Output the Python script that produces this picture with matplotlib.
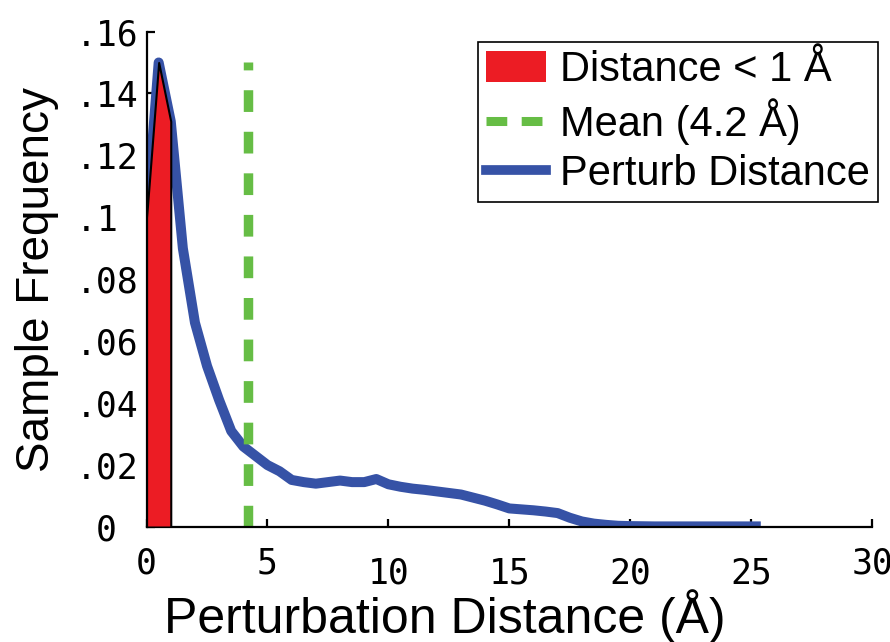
import numpy as np
import matplotlib
matplotlib.use('Agg')
import matplotlib.pyplot as plt
import matplotlib.patches as mpatches
import matplotlib.lines as mlines
from matplotlib.transforms import ScaledTranslation

# perturbation distance (A) and sample frequency
distance = [0.0, 0.5, 1.0, 1.5, 2.0, 2.5, 3.0, 3.5, 4.0, 4.5, 5.0, 5.5, 6.0, 6.5,
            7.0, 7.5, 8.0, 8.5, 9.0, 9.5, 10.0, 10.5, 11.0, 11.5, 12.0, 12.5,
            13.0, 13.5, 14.0, 14.5, 15.0, 15.5, 16.0, 16.5, 17.0, 17.5, 18.0,
            18.5, 19.0, 19.5, 20.0, 21.0, 22.0, 23.0, 24.0, 25.4]
frequency = [0.100, 0.150, 0.131, 0.090, 0.066, 0.052, 0.041, 0.031, 0.026,
             0.023, 0.020, 0.018, 0.0152, 0.0145, 0.014, 0.0145, 0.015, 0.0145,
             0.0145, 0.0155, 0.0138, 0.013, 0.0124, 0.012, 0.0115, 0.011,
             0.0105, 0.0095, 0.0085, 0.0073, 0.0060, 0.0057, 0.0054, 0.0050,
             0.0045, 0.0030, 0.0018, 0.0011, 0.0007, 0.0004, 0.0003, 0.0002,
             0.0002, 0.0002, 0.0002, 0.0002]
close_cut = 1.0      # "Distance < 1 A" region
mean_dist = 4.2
mean_top = 0.15

yticks = [0, 0.02, 0.04, 0.06, 0.08, 0.10, 0.12, 0.14, 0.16]
ytick_labels = ['0 ', '.02', '.04', '.06', '.08', '.1 ', '.12', '.14', '.16']
xticks = [0, 5, 10, 15, 20, 25, 30]
xtick_labels = ['0', '5', '10', '15', '20', '25', '30']
xtick_lowered = [False, False, True, True, True, True, False]

RED = '#ec1c24'
GREEN = '#66bd45'
BLUE = '#3652a6'

fig = plt.figure(figsize=(8.9, 6.42), dpi=100)
ax = fig.add_axes([0.1647, 0.1791, 0.8151, 0.7718])

x = np.array(distance)
y = np.array(frequency)

ax.plot(x, y, color=BLUE, lw=7.2, solid_joinstyle='round', solid_capstyle='butt', zorder=2)

near = x <= close_cut
ax.fill_between(x[near], y[near], 0, facecolor=RED, edgecolor='black', lw=1.5, zorder=3)

ax.plot([mean_dist, mean_dist], [0, mean_top], color=GREEN, lw=6.8,
        dashes=(2.3, 2.1), zorder=2.5)

ax.set_xlim(0, 30)
ax.set_ylim(0, 0.16)
for side in ['top', 'right']:
    ax.spines[side].set_visible(False)
for side in ['left', 'bottom']:
    ax.spines[side].set_linewidth(1.6)

mono = 'DejaVu Sans Mono'
ax.set_yticks(yticks)
ax.set_yticklabels(ytick_labels, family=mono, fontsize=25)
ax.set_xticks(xticks)
ax.set_xticklabels(xtick_labels, family=mono, fontsize=25)
ax.tick_params(axis='both', direction='in', length=6, width=1.6)
ax.tick_params(axis='y', pad=6)
ax.tick_params(axis='x', pad=14)

for lab, low in zip(ax.get_xticklabels(), xtick_lowered):
    if low:
        lab.set_transform(lab.get_transform() + ScaledTranslation(0, -7 / 72, fig.dpi_scale_trans))

ax.set_ylabel('Sample Frequency', family='Liberation Sans', fontsize=33, labelpad=12)
ax.set_xlabel('Perturbation Distance (Å)', family='Liberation Sans', fontsize=36, labelpad=0)
ax.xaxis.set_label_coords(0.411, -0.125)
ax.xaxis.label.set_va('top')

handles = [
    mpatches.Patch(facecolor=RED, edgecolor='none', label='Distance < 1 Å'),
    mlines.Line2D([], [], color=GREEN, lw=6.5, dashes=(2.3, 1.6), label='Mean (4.2 Å)'),
    mlines.Line2D([], [], color=BLUE, lw=7, label='Perturb Distance'),
]
leg = fig.legend(handles=handles, loc='upper right', bbox_to_anchor=(0.9865, 0.9346),
                 bbox_transform=fig.transFigure, borderaxespad=0,
                 prop={'family': 'Liberation Sans', 'size': 30},
                 handlelength=1.42, handleheight=0.78, handletextpad=0.34, borderpad=0.2,
                 labelspacing=0.2, fancybox=False, framealpha=1, edgecolor='black')
leg.get_frame().set_linewidth(1.2)

fig.savefig('out.png', dpi=100)
